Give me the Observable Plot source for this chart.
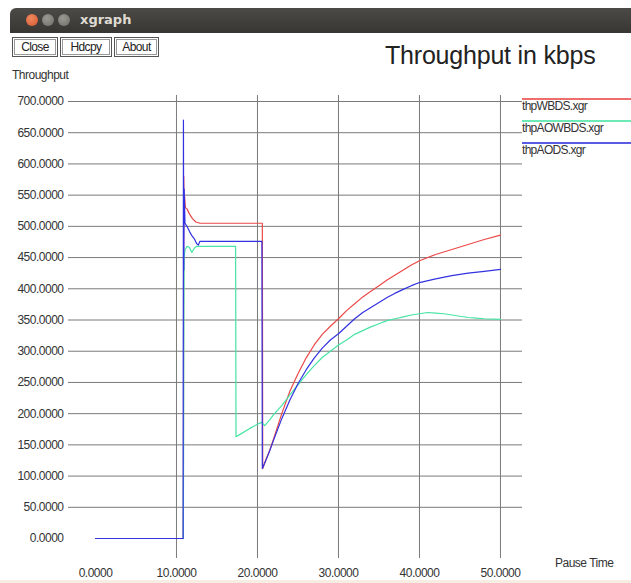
<!DOCTYPE html>
<html>
<head>
<meta charset="utf-8">
<script src="https://cdn.jsdelivr.net/npm/d3@7"></script>
<script src="https://cdn.jsdelivr.net/npm/@observablehq/plot@0.6"></script>
<style>
  html, body { margin: 0; padding: 0; background: #fff; }
  body { width: 631px; height: 583px; position: relative; overflow: hidden; font-family: "Liberation Sans", Arial, sans-serif; color: #333; }
  #chart { position: absolute; left: 0; top: 0; }
  .abs { position: absolute; }
  #titlebar { left: 10px; top: 8px; width: 621px; height: 25px; background: linear-gradient(#4b4a46, #373632); border-top-left-radius: 6px; }
  .dot { position: absolute; top: 6px; width: 12px; height: 12px; border-radius: 50%; }
  #appname { left: 70px; top: 4px; color: #dfdbd2; font-weight: bold; font-size: 13px; font-family: "DejaVu Sans", sans-serif; }
  .btn { position: absolute; top: 37px; height: 18px; border: 1px solid #555; box-shadow: inset 0 0 0 1px #fff, inset 0 0 0 2px #999; font-size: 12px; line-height: 18px; text-align: center; color: #222; letter-spacing: -0.6px; background: #fff; }
  #title { left: 385px; top: 41px; font-size: 25px; color: #222; letter-spacing: -0.2px; }
  #ylab { left: 12px; top: 68px; font-size: 12px; color: #333; letter-spacing: -0.5px; }
  #xlab { left: 555px; top: 556px; font-size: 12px; color: #333; letter-spacing: -0.5px; }
  .legline { position: absolute; left: 522px; width: 109px; height: 2px; }
  .legtxt { position: absolute; left: 522px; font-size: 12px; color: #333; letter-spacing: -0.7px; }
  #bottomstrip { left: 0; top: 580px; width: 631px; height: 3px; background: #f6eee2; }
</style>
</head>
<body>
<div id="chart"></div>
<div id="titlebar" class="abs">
  <div class="dot" style="left:16px;background:radial-gradient(circle at 40% 35%, #f08a60, #d4552c);"></div>
  <div class="dot" style="left:32px;background:radial-gradient(circle at 40% 35%, #9a9994, #6e6d68);"></div>
  <div class="dot" style="left:48px;background:radial-gradient(circle at 40% 35%, #9a9994, #6e6d68);"></div>
  <div id="appname" class="abs">xgraph</div>
</div>
<div class="btn" style="left:12px;width:44px;">Close</div>
<div class="btn" style="left:60px;width:50px;">Hdcpy</div>
<div class="btn" style="left:114px;width:43px;">About</div>
<div id="title" class="abs">Throughput in kbps</div>
<div id="ylab" class="abs">Throughput</div>
<div id="xlab" class="abs">Pause Time</div>
<div id="legend"></div>
<div id="bottomstrip" class="abs"></div>
<script>
// ---- data ----
const seriesNames = ["thpWBDS.xgr", "thpAOWBDS.xgr", "thpAODS.xgr"];
const seriesColors = ["#ec4848", "#48e4a4", "#3232e0"];

const wbdsX = [0, 10.85, 10.9, 10.95, 11.0, 11.1, 11.3, 11.6, 12.0, 12.4, 12.9, 20.6, 20.65, 21, 21.5, 22, 22.7, 23, 24, 25, 26, 27, 28, 29, 30, 31, 32, 33, 34, 35, 36, 37, 38, 39, 40, 42, 44, 46, 48, 50];
const wbdsY = [0, 0, 580, 520, 548, 530, 528, 520, 512, 507, 505, 505, 112, 125, 141, 160, 188, 200, 236, 264, 289, 310, 327, 340, 352, 365, 376, 387, 396, 405, 414, 422, 430, 438, 445, 455, 463, 471, 479, 486];

const aowbdsX = [0, 10.85, 10.9, 10.95, 11.05, 11.3, 11.6, 11.9, 12.2, 12.5, 17.3, 17.35, 18, 19, 20, 20.5, 20.9, 21.5, 22.1, 23, 24, 25, 26, 27, 28, 29, 30, 31, 32, 33, 34, 35, 36, 37, 38, 39, 40, 41, 42, 43, 44, 45, 46, 47, 48, 50];
const aowbdsY = [0, 0, 300, 450, 462, 468, 466, 458, 465, 468, 468, 163, 168, 176, 183, 186, 181, 190, 200, 213, 230, 246, 262, 277, 290, 300, 310, 318, 327, 333, 339, 344, 349, 352, 355, 358, 360, 362, 361, 360, 358, 356, 354, 353, 352, 351];

const aodsX = [0, 10.82, 10.86, 10.9, 10.95, 11.05, 11.3, 11.6, 11.9, 12.2, 12.5, 12.7, 12.9, 20.55, 20.6, 21, 21.5, 22, 23, 24, 25, 26, 27, 28, 29, 30, 31, 32, 33, 34, 35, 36, 37, 38, 39, 40, 42, 44, 46, 48, 50];
const aodsY = [0, 0, 670, 430, 560, 505, 500, 492, 485, 480, 472, 470, 476, 476, 112, 124, 140, 158, 192, 222, 248, 270, 289, 305, 318, 328, 340, 352, 362, 370, 378, 386, 393, 399, 405, 410, 416, 421, 425, 428, 431];

const xTicks = [0, 10, 20, 30, 40, 50];
const yTicks = [0, 50, 100, 150, 200, 250, 300, 350, 400, 450, 500, 550, 600, 650, 700];

// ---- build table ----
const seriesXs = [wbdsX, aowbdsX, aodsX];
const seriesYs = [wbdsY, aowbdsY, aodsY];
const rows = [];
seriesNames.forEach((name, i) => {
  seriesXs[i].forEach((x, j) => rows.push({series: name, x, y: seriesYs[i][j]}));
});

const fmt = d3.format(".4f");
const chart = Plot.plot({
  width: 631,
  height: 583,
  marginLeft: 68,
  marginRight: 109,
  marginTop: 95,
  marginBottom: 25,
  style: {fontFamily: "Liberation Sans, Arial, sans-serif", fontSize: "12px", color: "#333", background: "transparent", letterSpacing: "-0.5px"},
  x: {domain: [-3.33, 52.72], label: null},
  y: {domain: [-32, 709.6], label: null},
  color: {domain: seriesNames, range: seriesColors},
  marks: [
    Plot.gridX(xTicks.filter(d => d !== 0), {stroke: "#7a7a7a", strokeOpacity: 1}),
    Plot.gridY(yTicks.filter(d => d !== 0), {stroke: "#7a7a7a", strokeOpacity: 1}),
    Plot.axisX(xTicks, {tickSize: 0, tickPadding: 10, tickFormat: fmt, label: null}),
    Plot.axisY(yTicks, {tickSize: 0, tickPadding: 5, tickFormat: fmt, label: null}),
    Plot.line(rows, {x: "x", y: "y", z: "series", stroke: "series", strokeWidth: 1.2})
  ]
});
document.getElementById("chart").appendChild(chart);

// legend
const legend = document.getElementById("legend");
const legTops = [98, 120, 142];
seriesNames.forEach((name, i) => {
  const l = document.createElement("div");
  l.className = "legline";
  l.style.top = legTops[i] + "px";
  l.style.background = seriesColors[i];
  l.style.opacity = 0.8;
  legend.appendChild(l);
  const t = document.createElement("div");
  t.className = "legtxt";
  t.style.top = (legTops[i] + 1) + "px";
  t.textContent = name;
  legend.appendChild(t);
});
</script>
</body>
</html>
